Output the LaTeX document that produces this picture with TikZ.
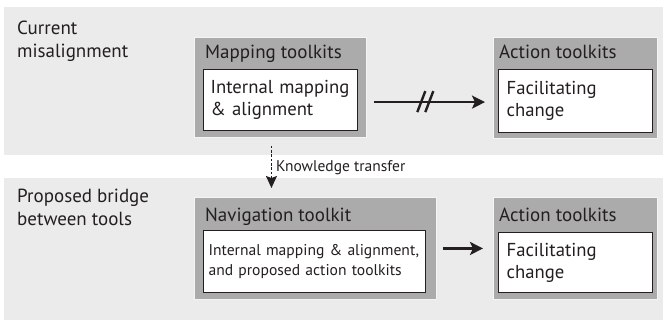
\documentclass[tikz,border=0pt]{standalone}
\usepackage{fontspec}
\setmainfont{PT Sans}
\usepackage{xcolor}
\usetikzlibrary{arrows.meta,positioning}
\definecolor{bandFill}{RGB}{235,235,235}
\definecolor{toolFill}{RGB}{171,171,171}
\definecolor{toolEdge}{RGB}{244,244,244}
\definecolor{inkLine}{RGB}{35,31,32}
\tikzset{
  bandbox/.style={rectangle, draw=none, fill=bandFill, anchor=north west, inner sep=0pt},
  toolbox/.style={rectangle, draw=toolEdge, fill=toolFill, line width=0.9pt, anchor=north west,
    inner sep=0pt},
  toolhead/.style={anchor=base west, inner sep=0pt, text=inkLine, font=\fontsize{19}{23}\selectfont},
  rowlabel/.style={anchor=north west, inner sep=0pt, align=left, text=inkLine,
    font=\fontsize{19}{23}\selectfont},
  contentbox/.style={rectangle, draw=inkLine, fill=white, line width=1.2pt, align=left,
    inner xsep=7pt, inner ysep=0pt, text=inkLine, font=\fontsize{18.7}{22}\selectfont},
  smallcontent/.style={contentbox, inner xsep=5pt, font=\fontsize{15.6}{20}\selectfont},
  edgelabel/.style={inner sep=0pt, text=inkLine, font=\fontsize{15.5}{18}\selectfont},
  flowarrow/.style={-{Stealth[length=13pt,width=13pt,inset=3pt]}, draw=inkLine, line width=2.6pt},
  breakstroke/.style={draw=inkLine, line width=2.4pt},
  transferarrow/.style={-{Stealth[length=12pt,width=11pt,inset=2pt]}, draw=inkLine, line width=1.2pt,
    dash pattern=on 2.5pt off 1.8pt},
}

\begin{document}
\begin{tikzpicture}[x=1pt, y=-1pt]
  \useasboundingbox (0,0) rectangle (663,323);

  \node[bandbox, minimum width=659pt, minimum height=148pt] (topband) at (4,7) {};
  \node[bandbox, minimum width=659pt, minimum height=142pt] (botband) at (4,178) {};

  \node[rowlabel] (curlabel) at (17,21) {Current\\misalignment};
  \node[rowlabel] (proplabel) at (17,189) {Proposed bridge\\between tools};

  \node[toolbox, minimum width=172pt, minimum height=100pt] (mapbox) at (194,37) {};
  \node[toolhead] (maptitle) at (205,59) {Mapping toolkits};
  \node[contentbox, text width=140pt, minimum height=61pt, below right=32pt and 9pt of mapbox.north west]
    (mapin) {Internal mapping\\\& alignment};

  \node[toolbox, minimum width=164pt, minimum height=101pt] (actbox1) at (493,37) {};
  \node[toolhead] (acttitle1) at (499,59) {Action toolkits};
  \node[contentbox, text width=138pt, inner xsep=8pt, minimum height=63pt,
    below right=32pt and 5pt of actbox1.north west] (actin1) {Facilitating\\change};

  \node[toolbox, minimum width=242pt, minimum height=102pt] (navbox) at (194,197) {};
  \node[toolhead] (navtitle) at (205,221) {Navigation toolkit};
  \node[smallcontent, text width=212pt, minimum height=62pt, below right=33pt and 9pt of navbox.north west]
    (navin) {Internal mapping \& alignment,\\and proposed action toolkits};

  \node[toolbox, minimum width=164pt, minimum height=102pt] (actbox2) at (493,197) {};
  \node[toolhead] (acttitle2) at (499,221) {Action toolkits};
  \node[contentbox, text width=138pt, inner xsep=8pt, minimum height=60pt,
    below right=35pt and 5pt of actbox2.north west] (actin2) {Facilitating\\change};

  \draw[flowarrow, shorten <=16pt, shorten >=13pt] ([yshift=-2pt]mapin.east)
    -- coordinate[pos=0.48] (brk) ([yshift=-2pt]mapin.east -| actin1.west);
  \draw[breakstroke] (brk) ++(-8,10) -- ++(8,-21);
  \draw[breakstroke] (brk) ++(0,10) -- ++(8,-21);

  \draw[flowarrow, shorten <=6pt, shorten >=10pt] (navbox.east) -- (navbox.east -| actbox2.west);

  \draw[transferarrow, shorten <=8pt, shorten >=9pt] ([xshift=-9pt]mapbox.south)
    -- node[edgelabel, right, xshift=4pt] {Knowledge transfer} ([xshift=-9pt]mapbox.south |- navbox.north);
\end{tikzpicture}
\end{document}
